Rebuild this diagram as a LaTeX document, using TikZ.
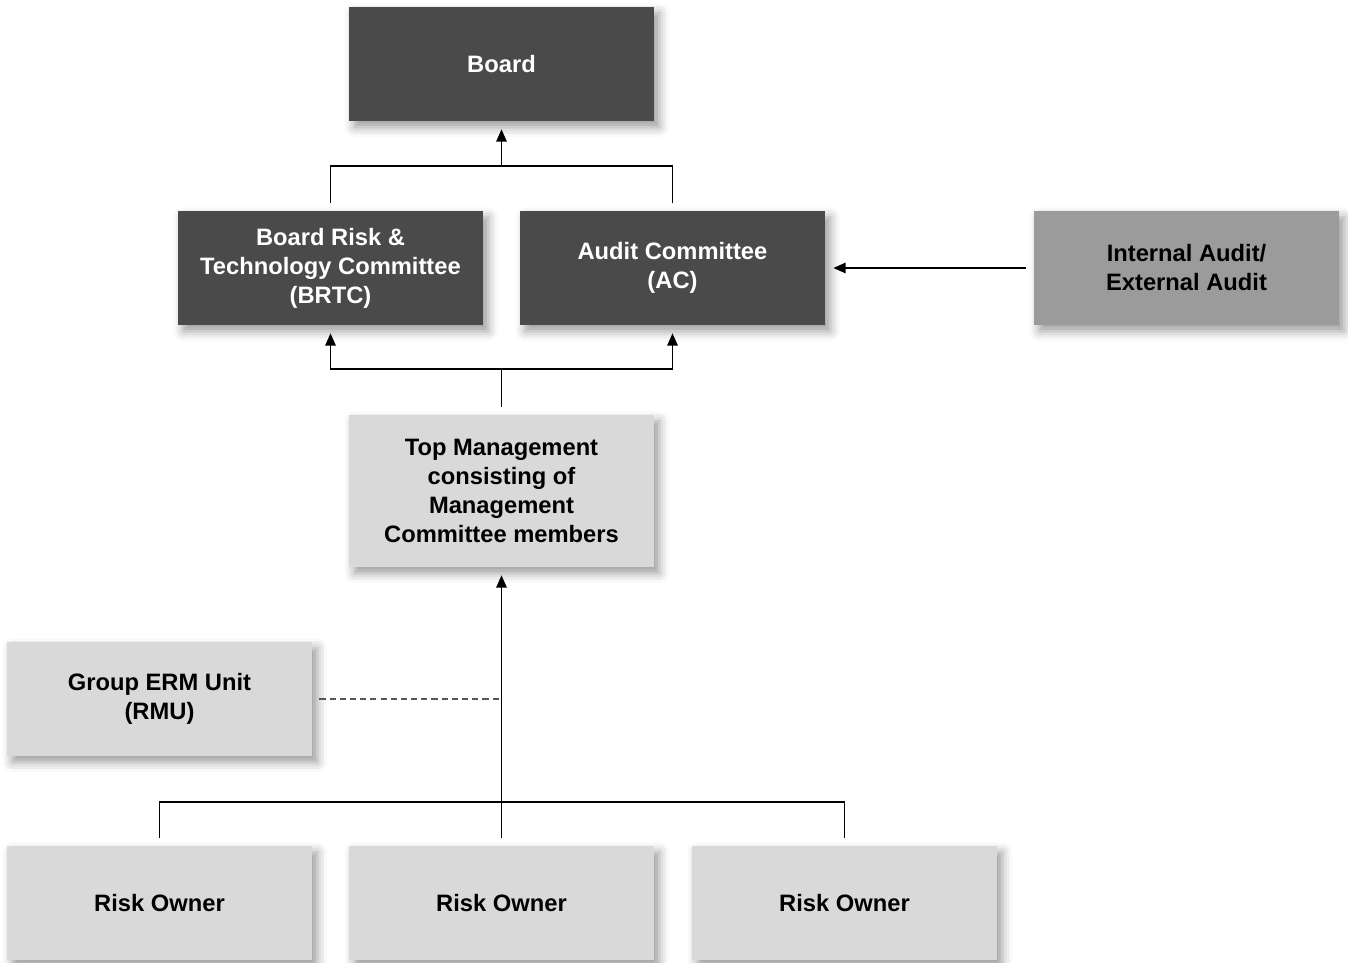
\documentclass[tikz,border=0pt]{standalone}
\usepackage{fontspec}
\setmainfont{Liberation Sans}
\usepackage{tikz}
\usetikzlibrary{arrows.meta,positioning,shadows.blur}
\definecolor{cDark}{HTML}{4A4A4A}
\definecolor{cLight}{HTML}{D9D9D9}
\definecolor{cMid}{HTML}{9B9B9B}
\definecolor{cDash}{HTML}{555555}
\tikzset{
  basebox/.style={rectangle,align=center,minimum width=6.1cm,minimum height=2.28cm,
                  font=\fontsize{13.5}{16.5}\selectfont\bfseries,
                  blur shadow={shadow xshift=3pt,shadow yshift=-3.5pt,
                               shadow blur radius=5.5pt,shadow opacity=40}},
  darknode/.style={basebox,fill=cDark,text=white},
  lightnode/.style={basebox,fill=cLight,text=black},
  midnode/.style={basebox,fill=cMid,text=black},
  conn/.style={line width=0.8pt,color=black},
  arr/.style={conn,-{Triangle[length=7pt,width=6pt]}},
  gapin/.style={shorten <=0.16cm},
  gapout/.style={shorten >=0.16cm},
  dasharr/.style={line width=0.8pt,color=cDash,dash pattern=on 3.5pt off 2.3pt}
}
\begin{document}
\begin{tikzpicture}
  \useasboundingbox (0,0) rectangle (26.96,19.24);

  \node[darknode] (board) at (10.03,17.96) {Board};
  \node[darknode] (brtc) at (6.61,13.88)
      {Board Risk \&\\Technology Committee\\(BRTC)};
  \node[darknode] (ac) at (13.45,13.88) {Audit Committee\\(AC)};
  \node[midnode] (audit) at (23.73,13.88) {Internal Audit/\\External Audit};
  \node[lightnode,minimum height=3.04cm] (topm) at (10.03,9.42)
      {Top Management\\consisting of\\Management\\Committee members};
  \node[lightnode] (rmu) at (3.19,5.26) {Group ERM Unit\\(RMU)};
  \node[lightnode] (own1) at (3.19,1.18) {Risk Owner};
  \node[lightnode] (own2) at (10.03,1.18) {Risk Owner};
  \node[lightnode] (own3) at (16.89,1.18) {Risk Owner};

  % junction points
  \coordinate (jtop) at (10.03,15.92);
  \coordinate (jmid) at (10.03,11.86);
  \coordinate (jbot) at (10.03,3.20);

  \draw[conn,gapin] (brtc.north) |- (jtop);
  \draw[conn,gapin] (ac.north) |- (jtop);
  \draw[arr,gapout] (jtop) -- (board.south);

  \draw[conn,gapin] (topm.north) -- (jmid);
  \foreach \to in {brtc,ac}
    \draw[arr,gapout] (jmid) -| (\to.south);

  \draw[arr,gapin,gapout] (audit.west) -- (ac.east);

  \foreach \from in {own1,own3}
    \draw[conn,gapin] (\from.north) |- (jbot);
  \draw[arr,gapin,gapout] (own2.north) -- (topm.south);

  \draw[dasharr,shorten <=0.14cm] (rmu.east) -- (rmu.east -| topm.south);
\end{tikzpicture}
\end{document}
